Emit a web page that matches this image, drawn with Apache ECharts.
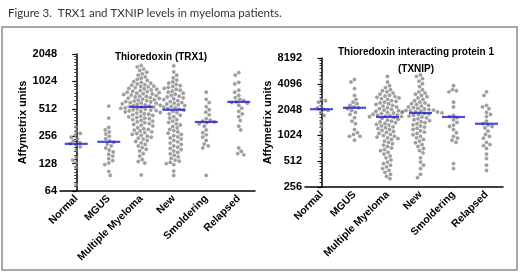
<!DOCTYPE html>
<html>
<head>
<meta charset="utf-8">
<script src="https://cdn.jsdelivr.net/npm/echarts@6/dist/echarts.min.js"></script>
<style>
  html, body { margin: 0; padding: 0; background: #fff; }
  #chart { width: 520px; height: 274px; }
</style>
</head>
<body>
<div id="chart"></div>
<script>
const categories = ['Normal', 'MGUS', 'Multiple Myeloma', 'New', 'Smoldering', 'Relapsed'];
const trxTicks = [64, 128, 256, 512, 1024, 2048];
const txnipTicks = [256, 512, 1024, 2048, 4096, 8192];

// TRX1 (Affymetrix units), one list per group
const trxNormal = [324, 290, 275, 262, 250, 238, 228, 218, 212, 205, 196, 180, 150, 140, 132, 116, 75];
const trxMgus = [548, 405, 320, 300, 285, 270, 255, 240, 228, 220, 210, 200, 190, 180, 172, 162, 155, 145, 138, 130, 125, 105, 95];
const trxMM = [1530, 1480, 1400, 1350, 1290, 1240, 1200, 1150, 1110, 1080, 1050, 1020,
  1000, 980, 960, 945, 930, 910, 900,
  890, 875, 860, 850, 840, 825, 810, 800, 790, 780, 770, 760, 752,
  745, 735, 725, 715, 705, 700, 690, 680, 672, 665, 655, 645, 638, 630, 622,
  615, 608, 600, 594, 588, 580, 574, 566, 560, 555, 548, 542, 536, 530, 524, 518, 512, 506, 500,
  496, 490, 485, 478, 472, 466, 460, 452, 446, 440, 432, 425, 418, 410, 404,
  398, 390, 382, 375, 368, 360, 352, 345, 338, 332,
  318, 310, 304, 298, 292, 286, 280, 274, 268, 262, 256, 250,
  244, 238, 230, 224, 216, 208, 200, 192, 184, 176,
  165, 155, 142, 135, 130, 96];
const trxNew = [1520, 1300, 1200, 1120, 1060,
  1010, 980, 950, 920, 900,
  880, 860, 840, 820, 800, 780, 760, 740, 720, 705,
  690, 675, 660, 645, 630, 615, 600, 590, 578, 566, 555, 545, 535, 525, 515, 505,
  495, 480, 465, 450, 435, 420, 405, 390, 375, 362, 350,
  340, 328, 316, 305, 295, 285, 276, 268, 260, 252,
  245, 238, 230, 222, 215, 208, 200, 194, 188, 182, 176, 170,
  164, 158, 152, 146, 140, 136, 132, 128, 125,
  106, 95];
const trxSmold = [780, 650, 600, 540, 500, 470, 440, 400, 385, 375, 368, 360, 350, 330, 300, 280, 265, 250, 230, 210, 200, 190, 95];
const trxRelapsed = [1280, 1200, 1000, 960, 820, 780, 720, 680, 650, 630, 610, 600, 590, 560, 520, 480, 450, 420, 380, 330, 300, 190, 175, 165, 160];
const trxMedian = [211, 222, 537, 500, 367, 610];

// TXNIP (Affymetrix units)
const txnipNormal = [4300, 2700, 2600, 2500, 2250, 2150, 2050, 2000, 1900, 1750, 1500, 1300, 1100, 740];
const txnipMgus = [4600, 4300, 3600, 3000, 2700, 2500, 2400, 2300, 2200, 2150, 2100, 2000, 1900, 1800, 1650, 1500, 1400, 1200, 1100, 1050, 1000, 1000, 900];
const txnipMM = [5000, 4300, 3900, 3700, 3500, 3400, 3300, 3200, 3100, 3000, 2950, 2900, 2850, 2800,
  2750, 2700, 2600, 2550, 2500, 2450, 2400, 2350, 2300, 2250, 2200, 2150, 2100, 2060, 2020,
  1990, 1960, 1930, 1900, 1870, 1840, 1810, 1780, 1760, 1740, 1720, 1700, 1690,
  1660, 1620, 1580, 1540, 1500, 1470, 1440, 1410, 1380, 1350, 1320, 1290, 1260, 1230, 1200,
  1170, 1140, 1110, 1080, 1050, 1020, 1000, 980, 960, 940, 920,
  880, 850, 820, 790, 760, 730, 700, 680, 650, 620,
  590, 560, 530, 500, 480, 460, 440, 420, 400,
  380, 360, 340, 320];
const txnipNew = [5200, 5000, 4700, 4400, 4100, 3800, 3500, 3300, 3200, 3100, 3000,
  2900, 2800, 2700, 2600, 2500, 2450, 2400, 2350, 2300, 2250, 2200,
  2160, 2120, 2080, 2050, 2020, 2000, 1980, 1960, 1940, 1920, 1900, 1880,
  1850, 1820, 1790, 1760, 1720, 1680, 1640, 1600, 1560, 1520, 1480, 1440, 1400, 1360, 1320,
  1280, 1240, 1200, 1160, 1120, 1080, 1040, 1000, 960, 920,
  880, 840, 800, 760, 720, 680, 640,
  560, 500, 460, 420, 360, 330];
const txnipSmold = [3900, 3500, 3400, 3300, 2500, 2200, 1750, 1700, 1650, 1550, 1450, 1350, 1300, 1200, 1100, 1000, 950, 900, 850, 480, 420];
const txnipRelapsed = [3300, 3000, 2300, 2200, 2100, 1900, 1800, 1700, 1500, 1400, 1350, 1300, 1250, 1150, 1050, 1000, 950, 850, 800, 780, 720, 620, 550, 460, 400];
const txnipMedian = [2070, 2150, 1680, 1870, 1680, 1400];

const trxGroups = [trxNormal, trxMgus, trxMM, trxNew, trxSmold, trxRelapsed];
const txnipGroups = [txnipNormal, txnipMgus, txnipMM, txnipNew, txnipSmold, txnipRelapsed];

// beeswarm layout: spread points sideways so dots don't overlap
function swarm(values, pxPerOctave, catPx, dot) {
  const placed = [];
  const sorted = values.slice().sort((a, b) => b - a);
  return sorted.map((v, idx) => {
    const y = Math.log2(v) * pxPerOctave;
    const step = 0.5;
    const sign = idx % 2 ? -1 : 1;
    let x = 0;
    for (let k = 0; k < 200; k++) {
      const cand = k === 0 ? 0 : sign * (k % 2 ? 1 : -1) * Math.ceil(k / 2) * step;
      const ok = placed.every(p => (p.x - cand) ** 2 + (p.y - y) ** 2 >= dot * dot);
      if (ok) { x = cand; break; }
    }
    placed.push({ x, y });
    return { off: x / catPx, v };
  });
}

function swarmSeries(groups, pxPerOctave, catPx, xIdx, yIdx) {
  const data = [];
  groups.forEach((vals, i) => {
    swarm(vals, pxPerOctave, catPx, 4.1).forEach(p => data.push([i + p.off, p.v]));
  });
  return {
    type: 'scatter',
    xAxisIndex: xIdx,
    yAxisIndex: yIdx,
    data,
    symbolSize: 3.3,
    itemStyle: { color: '#8a8a8a', borderColor: '#707070', borderWidth: 0.4 },
    silent: true,
    z: 2,
  };
}

function medianSeries(vals, xIdx, yIdx) {
  return {
    type: 'scatter',
    xAxisIndex: xIdx,
    yAxisIndex: yIdx,
    data: vals.map((v, i) => [categories[i], v]),
    symbol: 'rect',
    symbolSize: [23, 2.2],
    itemStyle: { color: '#1f1fd0' },
    silent: true,
    z: 3,
  };
}

const boldText = { fontFamily: 'Liberation Sans, Arial, sans-serif', fontWeight: 'bold', color: '#000' };

function catAxis(grid) {
  return {
    type: 'category',
    gridIndex: grid,
    data: categories,
    boundaryGap: true,
    axisLine: { lineStyle: { color: '#000', width: 1.5 } },
    axisTick: { alignWithLabel: true, length: 4, lineStyle: { color: '#000', width: 1.2 } },
    axisLabel: { ...boldText, fontSize: 10.5, rotate: 45, interval: 0, margin: 6 },
    splitLine: { show: false },
  };
}

function valXAxis(grid) {
  return { type: 'value', gridIndex: grid, min: -0.5, max: 5.5, show: false };
}

function logAxis(grid, ticks) {
  return {
    type: 'log',
    logBase: 2,
    gridIndex: grid,
    min: ticks[0],
    max: ticks[ticks.length - 1],
    axisLine: { show: true, lineStyle: { color: '#000', width: 1.5 } },
    axisTick: { show: true, length: 4, lineStyle: { color: '#000', width: 1.2 } },
    minorTick: { show: true, splitNumber: 8, length: 2, lineStyle: { color: '#000', width: 0.8 } },
    splitLine: { show: false },
    axisLabel: { ...boldText, fontSize: 11, margin: 3, formatter: (v) => String(Math.round(v)) },
    name: 'Affymetrix units',
    nameLocation: 'middle',
    nameGap: 30,
    nameTextStyle: { ...boldText, fontSize: 11 },
  };
}

const chart = echarts.init(document.getElementById('chart'), null, { renderer: 'canvas' });
chart.setOption({
  animation: false,
  title: [
    { text: 'Figure 3.  TRX1 and TXNIP levels in myeloma patients.', left: 3, top: 2,
      textStyle: { fontFamily: 'Lato, sans-serif', fontWeight: 'normal', fontSize: 11.5, color: '#333' } },
    { text: 'Thioredoxin (TRX1)', left: 156, top: 47, textAlign: 'center',
      textStyle: { ...boldText, fontSize: 10 } },
    { text: 'Thioredoxin interacting protein 1\n(TXNIP)', left: 411, top: 39, textAlign: 'center',
      textStyle: { ...boldText, fontSize: 10, lineHeight: 17 } },
  ],
  graphic: [
    { type: 'rect', shape: { x: 2, y: 27, width: 515, height: 243 },
      style: { fill: 'none', stroke: '#8c8c8c', lineWidth: 1.5 }, silent: true },
  ],
  grid: [
    { left: 60, right: 265, top: 54, bottom: 83 },
    { left: 305, right: 17, top: 58, bottom: 87 },
  ],
  xAxis: [catAxis(0), valXAxis(0), catAxis(1), valXAxis(1)],
  yAxis: [logAxis(0, trxTicks), logAxis(1, txnipTicks)],
  series: [
    swarmSeries(trxGroups, 27.4, 32.5, 1, 0),
    swarmSeries(txnipGroups, 25.8, 33, 3, 1),
    medianSeries(trxMedian, 0, 0),
    medianSeries(txnipMedian, 2, 1),
  ],
});
</script>
</body>
</html>
